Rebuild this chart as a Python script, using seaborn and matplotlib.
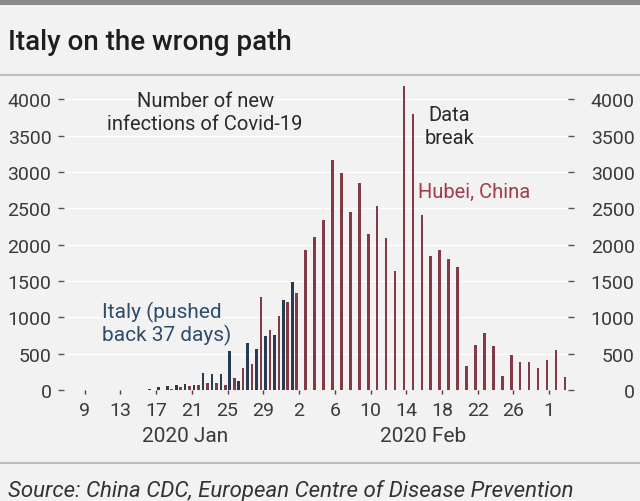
import numpy as np
import pandas as pd
import matplotlib
matplotlib.use('Agg')
from matplotlib import pyplot as plt
from matplotlib.lines import Line2D
import matplotlib.transforms as mtransforms
import matplotlib.colors as mcolors
import seaborn as sns

# daily new infections, one value per day starting 9 Jan 2020
hubei_cases = [0, 0, 0, 0, 0, 0, 0, 0, 5, 17, 45, 60, 70, 92, 92, 75, 161, 299, 354,
               1279, 828, 1021, 1210, 1334, 1922, 2101, 2346, 3160, 2985, 2452, 2843,
               2148, 2530, 2093, 1633, 4177, 3795, 2415, 1840, 1932, 1804, 1688, 336,
               621, 782, 612, 190, 483, 388, 391, 303, 409, 556, 175]
# Italy, pushed back 37 days
italy_cases = [0, 0, 0, 0, 0, 0, 0, 15, 40, 55, 65, 85, 75, 230, 216, 216, 540, 120,
               653, 561, 750, 759, 1232, 1481]

tick_days = [9, 13, 17, 21, 25, 29, 2, 6, 10, 14, 18, 22, 26, 1]
y_ticks = [0, 500, 1000, 1500, 2000, 2500, 3000, 3500, 4000]
month_labels = ['2020 Jan', '2020 Feb']

bg = '#f2f2f2'
red = '#8e2f3c'
blue = '#1f3c58'
grey_txt = '#3a3a3a'

df = pd.concat([
    pd.DataFrame({'day': np.arange(len(italy_cases)) + 0.5, 'cases': italy_cases, 'region': 'Italy'}),
    pd.DataFrame({'day': np.arange(len(hubei_cases)) + 0.5, 'cases': hubei_cases, 'region': 'Hubei'}),
])

sns.set_style('white')
plt.rcParams['font.family'] = ['Roboto', 'DejaVu Sans']

fig = plt.figure(figsize=(6.4, 5.02), dpi=100, facecolor=bg)
ax = fig.add_axes([64 / 640, 1 - 391 / 502, 504 / 640, 311 / 502])
ax.set_facecolor(bg)

sns.barplot(data=df, x='day', y='cases', hue='region', hue_order=['Italy', 'Hubei'],
            palette={'Italy': blue, 'Hubei': red}, native_scale=True, dodge=True,
            width=0.98, gap=0.4, linewidth=0, errorbar=None, legend=False, ax=ax)

# soft pink fringe around the Hubei bars
for p in ax.patches:
    if mcolors.to_hex(p.get_facecolor()) == red:
        p.set_edgecolor('#e6b9bf')
        p.set_linewidth(0.6)

ax.set_xlim(-2.3, 54.1)
ax.set_ylim(0, 4280)
for s in ax.spines.values():
    s.set_visible(False)
ax.set_xlabel('')
ax.set_ylabel('')

# gridlines
for v in y_ticks[1:]:
    ax.axhline(v, color='white', lw=1.0, zorder=0)

ax.set_yticks(y_ticks)
ax.set_yticklabels([str(v) for v in y_ticks])
ax.tick_params(axis='y', left=True, length=4, width=1, color='#555555', pad=5,
               labelsize=14, labelcolor=grey_txt)

ax.set_xticks(np.arange(0, 53, 4))
ax.set_xticklabels([str(d) for d in tick_days])
ax.tick_params(axis='x', bottom=True, length=3, width=1, color='#6b3038', pad=5,
               labelsize=14, labelcolor=grey_txt)

ax2 = ax.twinx()
ax2.set_ylim(ax.get_ylim())
ax2.set_yticks(y_ticks)
ax2.set_yticklabels([str(v) for v in y_ticks])
ax2.tick_params(axis='y', right=True, length=4, width=1, color='#555555', pad=44,
                labelsize=14, labelcolor=grey_txt)
for lab in ax2.get_yticklabels():
    lab.set_horizontalalignment('right')
for s in ax2.spines.values():
    s.set_visible(False)

trans = mtransforms.blended_transform_factory(ax.transData, ax.transAxes)
ax.text(11.3, -0.145, month_labels[0], transform=trans, ha='center', va='center',
        fontsize=15, color=grey_txt)
ax.text(37.9, -0.145, month_labels[1], transform=trans, ha='center', va='center',
        fontsize=15, color=grey_txt)

# annotations
ax.text(0.280, 0.893, 'Number of new\ninfections of Covid-19', transform=ax.transAxes,
        ha='center', va='center', fontsize=14.5, color='#2a2a2a', linespacing=1.25)
ax.text(0.764, 0.848, 'Data\nbreak', transform=ax.transAxes, ha='center', va='center',
        fontsize=14.5, color='#2a2a2a', linespacing=1.25)
ax.text(0.702, 0.637, 'Hubei, China', transform=ax.transAxes, ha='left', va='center',
        fontsize=14.5, color='#a33a47')
ax.text(0.075, 0.215, 'Italy (pushed\nback 37 days)', transform=ax.transAxes, ha='left',
        va='center', fontsize=15, color='#2d4d6b', linespacing=1.15)

# frame lines, title, source
fig.add_artist(Line2D([0, 1], [1 - 2.5 / 502, 1 - 2.5 / 502], color='#8a8a8a', lw=3.6))
fig.add_artist(Line2D([0, 1], [1 - 76 / 502, 1 - 76 / 502], color='#bdbdbd', lw=1.5))
fig.add_artist(Line2D([0, 1], [1 - 464 / 502, 1 - 464 / 502], color='#bdbdbd', lw=1.5))
fig.text(0.012, 1 - 42 / 502, 'Italy on the wrong path', ha='left', va='center',
         fontsize=20, fontweight='medium', color='#1e1e1e')
fig.text(0.012, 1 - 491 / 502, 'Source: China CDC, European Centre of Disease Prevention',
         ha='left', va='center', fontsize=16, fontstyle='italic', color='#333333')

fig.savefig('out.png', dpi=100, facecolor=bg)
